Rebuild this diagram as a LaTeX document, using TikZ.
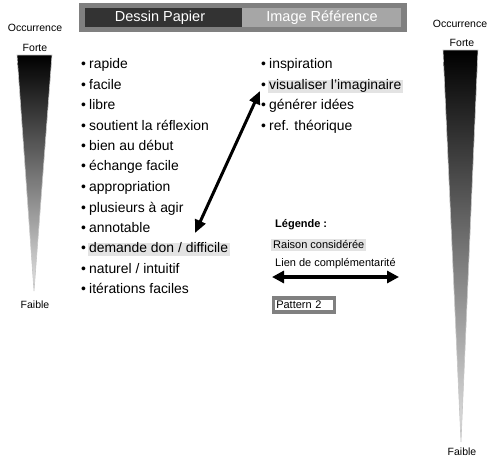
\documentclass[tikz,border=0pt]{standalone}
\usepackage{fontspec}
\setmainfont{Liberation Sans}
\usetikzlibrary{arrows.meta}
\definecolor{hdrout}{HTML}{808080}
\definecolor{hdrdark}{HTML}{333333}
\definecolor{hdrlight}{HTML}{A6A6A6}
\definecolor{hlgray}{HTML}{E3E3E3}
\tikzset{
  item/.style={anchor=west, inner sep=0pt, text height=10pt, text depth=3pt,
    font=\fontsize{13.9}{15}\selectfont},
  hlitem/.style={item, fill=hlgray, inner xsep=1.5pt},
  bul/.style={item},
  small/.style={font=\fontsize{10.5}{12}\selectfont, inner sep=0pt},
  leg/.style={font=\fontsize{11}{13}\selectfont, inner sep=0pt},
  hdrtext/.style={font=\fontsize{14.5}{16}\selectfont, text=white, inner sep=0pt},
  link/.style={line width=3pt, {Triangle[length=13pt,width=11pt]}-{Triangle[length=13pt,width=11pt]}},
  wedge/.style={draw=gray!45, line width=0.6pt, top color=black, bottom color=gray!20},
}
\begin{document}
\begin{tikzpicture}[x=1pt,y=-1pt]
\useasboundingbox (0,0) rectangle (488,461);

% header bar
\fill[hdrout] (79,3) rectangle (407,32);
\fill[hdrdark] (85,8) rectangle (242,27);
\fill[hdrlight] (242,8) rectangle (401,27);
\node[hdrtext] (hdp) at (160,18) {Dessin Papier};
\node[hdrtext] (hir) at (322,18) {Image Référence};

% left occurrence scale
\node[small] (occl) at (35,28) {Occurrence};
\node[small] (fortel) at (35,48) {Forte};
\shade[wedge] (17,55) -- (52,55) -- (34,291) -- cycle;
\node[small] (faiblel) at (35,305) {Faible};

% right occurrence scale
\node[small] (occr) at (460,24) {Occurrence};
\node[small] (forter) at (462,43) {Forte};
\shade[wedge] (443,50) -- (478,50) -- (461,442) -- cycle;
\node[small] (faibler) at (462,452) {Faible};

% left list (Dessin Papier)
\foreach \i/\y/\t in {1/65/rapide, 2/86/facile, 3/106/libre,
    4/127/soutient la réflexion, 5/147/bien au début, 6/167/échange facile,
    7/188/appropriation, 8/209/plusieurs à agir, 9/229/annotable,
    11/270/{naturel / intuitif}, 12/290/itérations faciles}{
  \node[bul] (lb\i) at (81,\y) {•};
  \node[item] (lt\i) at (89,\y) {\t};
}
\node[bul] (lb10) at (81,249) {•};
\node[hlitem] (lt10) at (87.5,249) {demande don / difficile};

% right list (Image Référence)
\foreach \i/\y/\t in {1/65/inspiration, 3/106/générer idées, 4/127/ref. théorique}{
  \node[bul] (rb\i) at (261,\y) {•};
  \node[item] (rt\i) at (269,\y) {\t};
}
\node[bul] (rb2) at (261,86) {•};
\node[hlitem] (rt2) at (267.5,86) {visualiser l'imaginaire};

% complementarity link
\coordinate (ltop) at (260,91);
\coordinate (lbot) at (195,233);
\draw[link] (lbot) -- (ltop);

% legend
\node[leg, anchor=west, font=\fontsize{11}{13}\bfseries] (legt) at (275,225) {Légende :};
\node[leg, fill=hlgray, inner xsep=2pt, inner ysep=2pt, anchor=west] (legr) at (271,245) {Raison considérée};
\node[leg, anchor=west] (legl) at (275,264) {Lien de complémentarité};
\coordinate (la) at (272,277);
\coordinate (lc) at (399,277);
\draw[line width=3.5pt, {Triangle[length=12pt,width=12pt]}-{Triangle[length=12pt,width=12pt]}] (la) -- (lc);
\node[leg, draw=hdrout, line width=3.5pt, fill=white, text width=55pt, minimum height=14pt, inner xsep=3pt, anchor=west] (legp) at (271.5,305) {Pattern 2};
\end{tikzpicture}
\end{document}
